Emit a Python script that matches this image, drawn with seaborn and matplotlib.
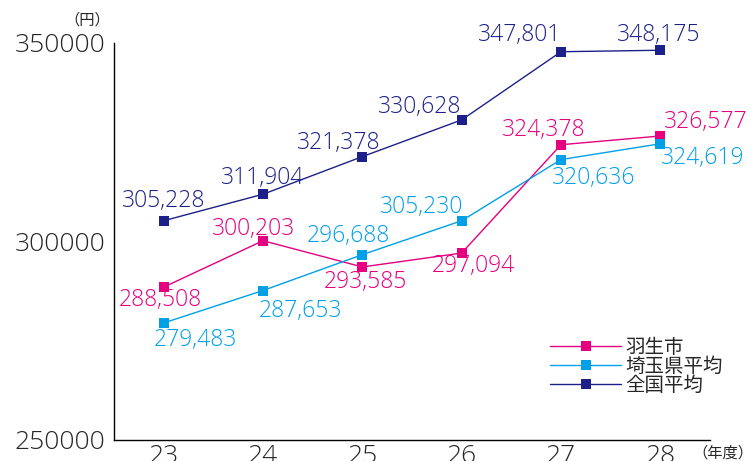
import pandas as pd
import numpy as np
import seaborn as sns
import matplotlib.pyplot as plt
from matplotlib.ticker import FixedLocator

# データ（年度と1人当たり医療費）
years = ['23', '24', '25', '26', '27', '28']
hanyu = [288508, 300203, 293585, 297094, 324378, 326577]
saitama = [279483, 287653, 296688, 305230, 320636, 324619]
zenkoku = [305228, 311904, 321378, 330628, 347801, 348175]
series_names = ['羽生市', '埼玉県平均', '全国平均']
colors = ['#e4007f', '#00a0e9', '#1d2088']

df = pd.DataFrame({
    'pos': list(range(len(years))) * 3,
    'value': hanyu + saitama + zenkoku,
    'series': np.repeat(series_names, len(years)),
})

sns.set_style('white')
plt.rcParams['font.family'] = ['Noto Sans CJK JP', 'DejaVu Sans']

fig = plt.figure(figsize=(7.54, 4.61), dpi=100)
ax = fig.add_axes([114 / 754, 1 - 440 / 461, (710 - 114) / 754, (440 - 43) / 461])

sns.lineplot(data=df, x='pos', y='value', hue='series', hue_order=series_names,
             palette=colors, marker='s', markersize=7, markeredgewidth=0,
             linewidth=1.0, ax=ax)

ax.set_xlim(-0.5, len(years) - 0.5)
ax.set_ylim(250000, 350000)
ax.set_yticks([250000, 300000, 350000])
ax.set_yticklabels(['250000', '300000', '350000'], fontsize=19, family='Open Sans', fontweight=300)
ax.set_xticks(range(len(years)))
ax.set_xticklabels(years, fontsize=19, family='Open Sans', fontweight=300)
ax.tick_params(axis='x', which='major', length=0, pad=3)
ax.xaxis.set_minor_locator(FixedLocator(np.arange(0.5, len(years), 1.0)))
ax.tick_params(axis='x', which='minor', direction='in', length=11, width=1, color='black')
ax.tick_params(axis='y', which='major', direction='in', length=10, width=1, color='black', pad=6)
ax.set_xlabel('')
ax.set_ylabel('')
for s in ['top', 'right']:
    ax.spines[s].set_visible(False)
for s in ['left', 'bottom']:
    ax.spines[s].set_color('black')
    ax.spines[s].set_linewidth(1)

# 数値ラベル (dx, dy はピクセル単位)
offsets = {
    '羽生市': [(-3, -13), (-9, 12), (3, -15), (12, -13), (-17, 15), (45, 14)],
    '埼玉県平均': [(32, -17), (37, -20), (-14, 19), (-40, 14), (33, -18), (42, -14)],
    '全国平均': [(0, 20), (0, 16), (-24, 14), (-42, 13), (-41, 17), (-2, 15)],
}
for name, vals, c in zip(series_names, [hanyu, saitama, zenkoku], colors):
    for i, v in enumerate(vals):
        dx, dy = offsets[name][i]
        ax.annotate(f'{v:,}', (i, v), xytext=(dx, dy), textcoords='offset pixels',
                    ha='center', va='center', fontsize=16.5, color=c,
                    family='Open Sans', fontweight=300)

leg = ax.legend(loc='upper left', bbox_to_anchor=(0.703, 0.303), frameon=False,
                fontsize=14, handlelength=3.65, handletextpad=0.2, labelspacing=-0.12)

fig.text(110 / 754, 1 - 20 / 461, '（円）', fontsize=11, ha='right', va='center')
fig.text(753 / 754, 1 - 453 / 461, '（年度）', fontsize=11, ha='right', va='center')
fig.text(385 / 754, 1 + 8 / 461, '国民健康保険被保険者一人当たりの医療費の推移',
         fontsize=16, ha='center', va='center')

fig.savefig('out.png', dpi=100)
